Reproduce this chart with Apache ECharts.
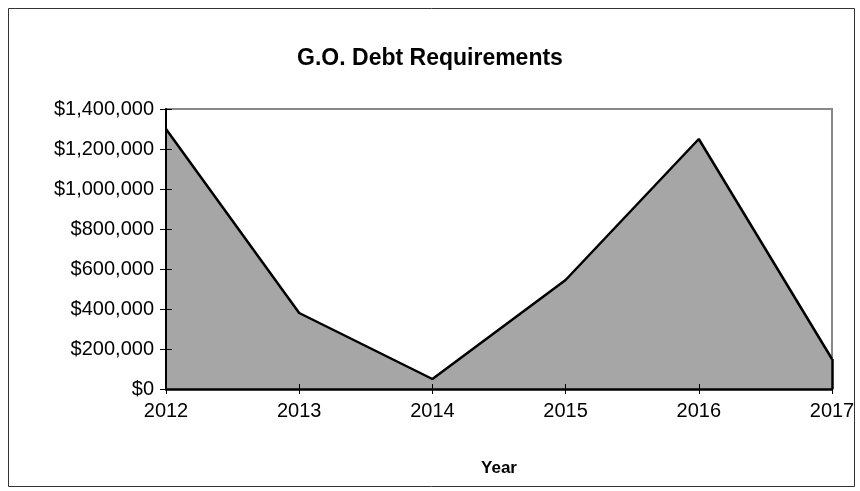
<!DOCTYPE html>
<html><head><meta charset="utf-8">
<script src="https://cdn.jsdelivr.net/npm/echarts@6/dist/echarts.min.js"></script>
<style>html,body{margin:0;padding:0;background:#fff}#c{width:860px;height:491px}</style>
</head><body><div id="c"></div>
<script>
const categories = ['2012','2013','2014','2015','2016','2017'];
const debtValues = [1300000, 380000, 50000, 545000, 1250000, 150000];
const yTicks = [0, 200000, 400000, 600000, 800000, 1000000, 1200000, 1400000];
const title = 'G.O. Debt Requirements';
const xName = 'Year';

function fmt(v){ return '$' + v.toLocaleString('en-US'); }
const FF = 'Arial, "Liberation Sans", sans-serif';

const chart = echarts.init(document.getElementById('c'), null, {renderer:'canvas'});
const lastIdx = categories.length - 1;
chart.setOption({
  animation: false,
  backgroundColor: '#fff',
  graphic: [{type:'rect', shape:{x:8.5,y:8.5,width:846,height:478}, style:{fill:'none', stroke:'#333', lineWidth:1}, silent:true}],
  title: {text: title, left: 'center', top: 42, textStyle:{fontFamily:FF, fontSize:23, fontWeight:'bold', color:'#000'}},
  grid: {left:166, right:28, top:109, bottom:102, show:true, borderColor:'#888', borderWidth:2, backgroundColor:'transparent'},
  xAxis: [{
    type:'category', data: categories, boundaryGap:false, z:10,
    name: xName, nameLocation:'middle', nameGap:71,
    nameTextStyle:{fontFamily:FF, fontSize:17, fontWeight:'bold', color:'#000'},
    axisLine:{lineStyle:{color:'#000', width:2.5}},
    axisTick:{length:5, lineStyle:{color:'#000'}},
    axisLabel:{fontFamily:FF, fontSize:20, color:'#000', margin:12},
    splitLine:{show:false}
  },{
    type:'category', data: categories, boundaryGap:false, position:'bottom', z:10,
    axisLine:{show:false}, axisTick:{inside:true, length:5, lineStyle:{color:'#000'}}, axisLabel:{show:false}
  }],
  yAxis: [{
    type:'value', min:0, max:1400000, interval:200000, z:10,
    axisLine:{show:true, lineStyle:{color:'#000', width:2}},
    axisTick:{show:true, length:6, lineStyle:{color:'#000'}},
    axisLabel:{fontFamily:FF, fontSize:20, color:'#000', margin:12, formatter: v => yTicks.includes(v) ? fmt(v) : ''},
    splitLine:{show:false}
  },{
    type:'value', min:0, max:1400000, interval:200000, position:'left', z:10,
    axisLine:{show:false}, axisTick:{show:true, inside:true, length:6, lineStyle:{color:'#000'}}, axisLabel:{show:false}, splitLine:{show:false}
  }],
  series: [{
    type:'line', data: debtValues, symbol:'none',
    lineStyle:{color:'#000', width:2.5},
    areaStyle:{color:'#a6a6a6', opacity:1},
    z: 3,
    markLine: {
      silent:true, symbol:['none','none'], label:{show:false},
      lineStyle:{color:'#000', width:2.5, type:'solid'},
      data: [[{coord:[categories[lastIdx], 0]}, {coord:[categories[lastIdx], debtValues[lastIdx]]}]]
    }
  }]
});
</script></body></html>
